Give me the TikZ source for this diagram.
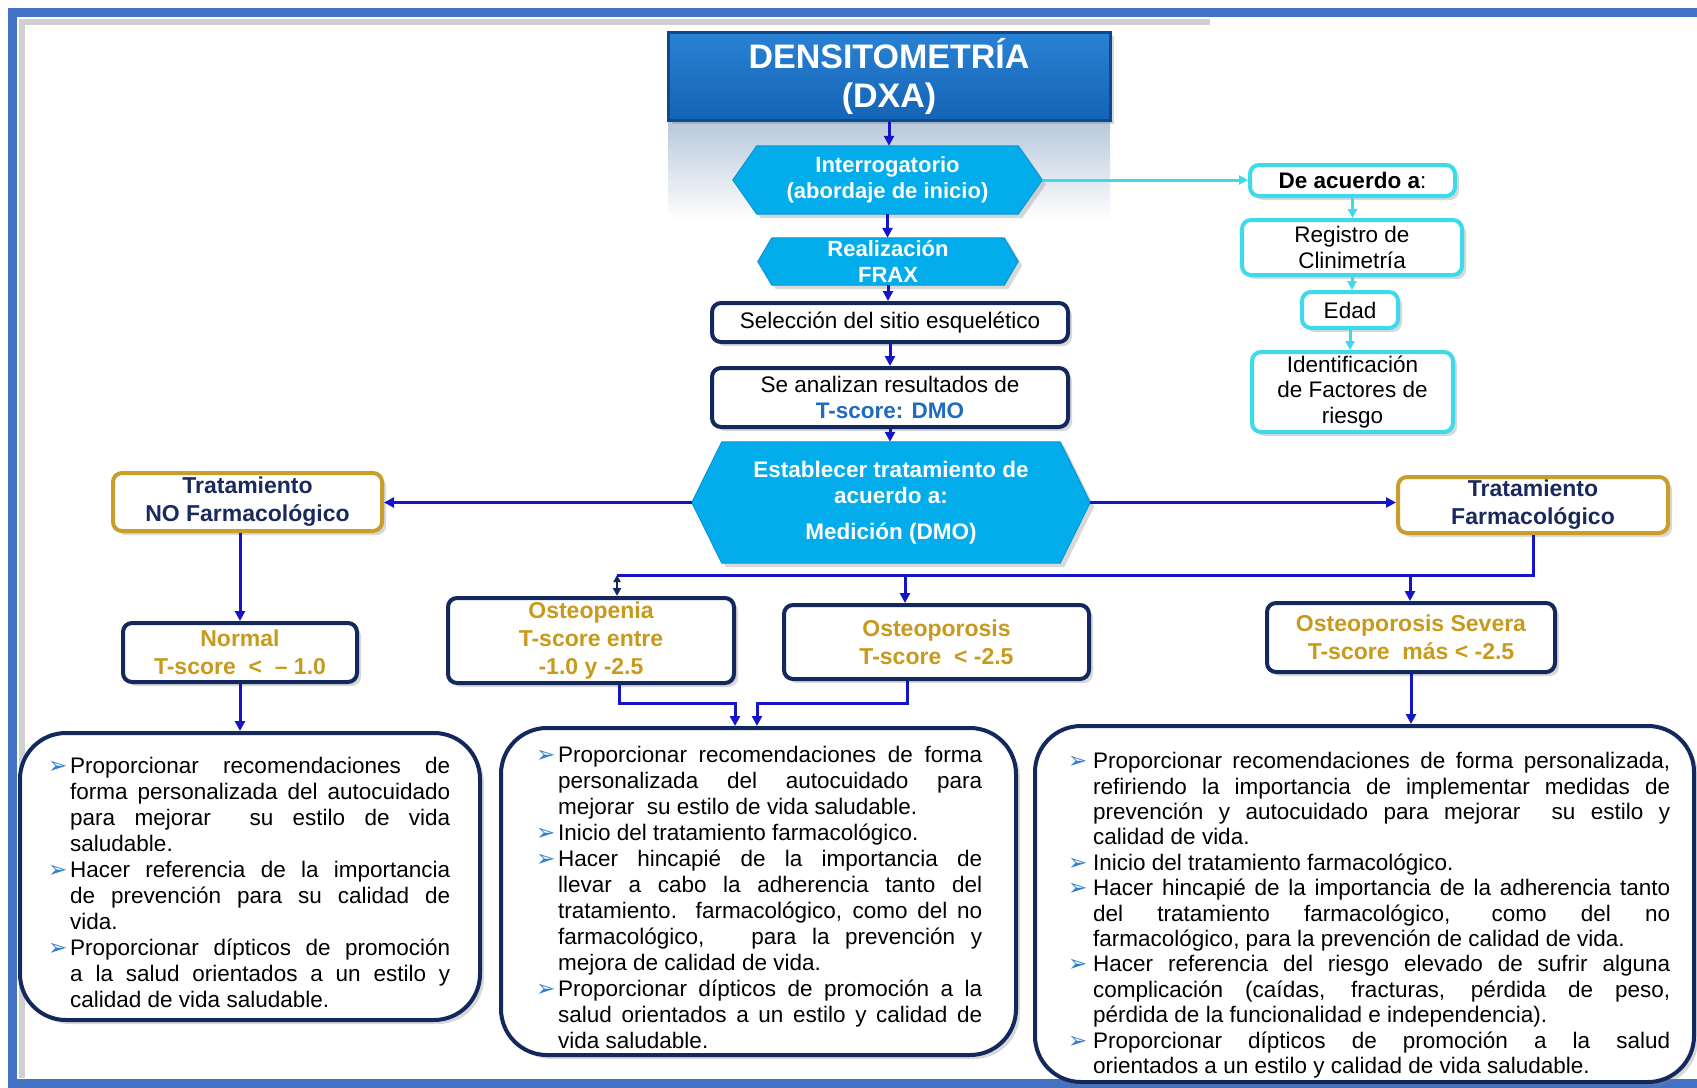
\documentclass[tikz,border=0pt]{standalone}
\usepackage{fontspec}
\setmainfont{Liberation Sans}
\newfontfamily\mysymfont{DejaVu Sans}
\usetikzlibrary{arrows.meta,shadows,backgrounds}
\definecolor{framecol}{HTML}{4472C4}
\definecolor{navy}{HTML}{13295E}
\definecolor{navytext}{HTML}{1B2A5C}
\definecolor{goldc}{HTML}{C99E2A}
\definecolor{goldt}{HTML}{C89A1C}
\definecolor{hexc}{HTML}{03ADEB}
\definecolor{hexedge}{HTML}{0796D0}
\definecolor{titletop}{HTML}{2A82D4}
\definecolor{titlebot}{HTML}{1563B4}
\definecolor{titleedge}{HTML}{0C4A8E}
\definecolor{arrowc}{HTML}{1414C8}
\definecolor{cyanc}{HTML}{3CDAEA}
\definecolor{tblue}{HTML}{1F6BC0}
\definecolor{bulcol}{HTML}{2F7ED0}
\definecolor{reflc}{HTML}{B7C8D9}
\newcommand\mytitlefont{\fontsize{34}{39}\selectfont\bfseries}
\newcommand\myhexfont{\fontsize{22}{26}\selectfont\bfseries}
\newcommand\myheadfont{\fontsize{23}{28}\selectfont\bfseries}
\newcommand\myregfont{\fontsize{22.5}{25.5}\selectfont}
\newcommand\mybodyfont{\fontsize{22.5}{26}\selectfont}
\newcommand\mybul{{\mysymfont\fontsize{23}{23}\selectfont\color{bulcol}➢}}
\newcommand\myitm[2]{\par\noindent\hangindent=#1\hangafter=1\makebox[#1][l]{\rule{0pt}{20pt}\mybul}#2\par}
\begin{document}
\begin{tikzpicture}[x=1pt,y=-1pt,
  shad/.style={drop shadow={opacity=0.3,shadow xshift=4pt,shadow yshift=-4pt}},
  navybox/.style={draw=navy,line width=4pt,rounded corners=9pt,fill=white,align=center,inner sep=0pt,shad},
  goldbox/.style={navybox,draw=goldc},
  cyanbox/.style={draw=cyanc,line width=4pt,rounded corners=9pt,fill=white,align=center,inner sep=0pt,shad,font=\myregfont},
  hexnode/.style={inner sep=0pt,align=center,text=white,font=\myhexfont},
  hexfill/.style={fill=hexc,draw=hexedge,line width=1pt,shad},
  bigbox/.style={draw=navy,line width=4pt,rounded corners=46pt,fill=white,inner sep=0pt,shad},
  bodytext/.style={inner sep=0pt,align=justify,anchor=north west,font={\mybodyfont\parindent=0pt\tolerance=10000\hyphenpenalty=10000}},
  conn/.style={draw=arrowc,line width=3pt,-{Triangle[length=10pt,width=10pt]}},
  plainline/.style={draw=arrowc,line width=3pt},
  cconn/.style={draw=cyanc,line width=3pt,-{Triangle[length=9pt,width=9pt]}},
  dconn/.style={draw=navy,line width=2pt,{Triangle[length=7pt,width=7pt]}-{Triangle[length=8pt,width=8pt]}}
]
\useasboundingbox (0,0) rectangle (1697,1087);
\begin{pgfonlayer}{background}
  \fill[white] (0,0) rectangle (1697,1087);
  \shade[top color=reflc,bottom color=white] (668,120) rectangle (1110,220);
\end{pgfonlayer}

% frame
\draw[black!30,line width=6pt,opacity=0.6] (22,1078) -- (22,22) -- (1210,22);
\draw[framecol,line width=9pt] (1697,12) -- (12,12) -- (12,1083) -- (1697,1083);

% title
\node[top color=titletop,bottom color=titlebot,draw=titleedge,line width=3pt,text=white,font=\mytitlefont,align=center,inner sep=0pt,minimum width=442pt,minimum height=88pt,shad] (title) at (889,76) {DENSITOMETRÍA\\(DXA)};

% hexagons
\node[hexnode,minimum width=309pt,minimum height=68pt] (interr) at (887.5,180) {Interrogatorio\\(abordaje de inicio)};
\node[hexnode,minimum width=260pt,minimum height=47pt] (realiz) at (888,261.5) {Realización\\FRAX};
\node[hexnode,font={\fontsize{22.5}{26}\selectfont\bfseries},minimum width=398pt,minimum height=121pt] (estab) at (891,502.5) {Establecer tratamiento de\\acuerdo a:\\[10pt]Medición (DMO)};
\begin{pgfonlayer}{background}
  \path[hexfill] (interr.west) -- ([xshift=24pt]interr.north west) -- ([xshift=-24pt]interr.north east) -- (interr.east) -- ([xshift=-24pt]interr.south east) -- ([xshift=24pt]interr.south west) -- cycle;
  \path[hexfill] (realiz.west) -- ([xshift=14pt]realiz.north west) -- ([xshift=-14pt]realiz.north east) -- (realiz.east) -- ([xshift=-14pt]realiz.south east) -- ([xshift=14pt]realiz.south west) -- cycle;
  \path[hexfill] (estab.west) -- ([xshift=30pt]estab.north west) -- ([xshift=-30pt]estab.north east) -- (estab.east) -- ([xshift=-30pt]estab.south east) -- ([xshift=30pt]estab.south west) -- cycle;
\end{pgfonlayer}

% central boxes
\node[navybox,font=\myregfont,minimum width=356pt,minimum height=39pt] (selec) at (890,322.5) {Selección del sitio esquelético};
\node[navybox,font=\myregfont,minimum width=356pt,minimum height=59pt] (anal) at (890,397.5) {Se analizan resultados de\\{\bfseries\color{tblue}T-score: DMO}};

% right cyan column
\node[cyanbox,minimum width=205pt,minimum height=31pt] (deac) at (1352.5,180.5) {\bfseries De acuerdo a\mdseries:};
\node[cyanbox,minimum width=220pt,minimum height=55pt] (regis) at (1352,247.5) {Registro de\\Clinimetría};
\node[cyanbox,minimum width=96pt,minimum height=36pt] (edad) at (1350,310) {Edad};
\node[cyanbox,minimum width=201pt,minimum height=80pt] (ident) at (1352.5,392) {Identificación\\de Factores de\\riesgo};

% treatment boxes
\node[goldbox,font=\myheadfont,text=navytext,minimum width=269pt,minimum height=58pt] (nofarm) at (247.5,502) {Tratamiento\\NO Farmacológico};
\node[goldbox,font=\myheadfont,text=navytext,minimum width=270pt,minimum height=56pt] (farm) at (1533,505) {Tratamiento\\Farmacológico};

% category boxes
\node[navybox,font=\myheadfont,text=goldt,minimum width=234pt,minimum height=59pt] (normal) at (240,652.5) {Normal\\T-score\ \ <\ \ – 1.0};
\node[navybox,font=\myheadfont,text=goldt,minimum width=286pt,minimum height=85pt] (openia) at (591,640.5) {Osteopenia\\T-score entre\\-1.0 y -2.5};
\node[navybox,font=\myheadfont,text=goldt,minimum width=305pt,minimum height=74pt] (osteo) at (936.5,642) {Osteoporosis\\T-score\ \ < -2.5};
\node[navybox,font=\myheadfont,text=goldt,minimum width=288pt,minimum height=69pt] (severa) at (1411,637.5) {Osteoporosis Severa\\T-score\ \ más < -2.5};

% big boxes
\node[bigbox,minimum width=460pt,minimum height=287pt] (lbox) at (250,876.5) {};
\node[bigbox,minimum width=515pt,minimum height=327pt] (mbox) at (758.5,891.5) {};
\node[bigbox,minimum width=659pt,minimum height=356pt] (rbox) at (1364.5,904) {};

\node[bodytext,text width=402pt] (ltext) at (48,747) {%
\myitm{22pt}{Proporcionar recomendaciones de\linebreak forma personalizada del autocuidado\linebreak para mejorar\ \ su estilo de vida\linebreak saludable.}%
\myitm{22pt}{Hacer referencia de la importancia\linebreak de prevención para su calidad de\linebreak vida.}%
\myitm{22pt}{Proporcionar dípticos de promoción\linebreak a la salud orientados a un estilo y\linebreak calidad de vida saludable.}};

\node[bodytext,text width=446pt] (mtext) at (536,736) {%
\myitm{22pt}{Proporcionar recomendaciones de forma\linebreak personalizada del autocuidado para\linebreak mejorar\ \ su estilo de vida saludable.}%
\myitm{22pt}{Inicio del tratamiento farmacológico.}%
\myitm{22pt}{Hacer hincapié de la importancia de\linebreak llevar a cabo la adherencia tanto del\linebreak tratamiento. farmacológico, como del no\linebreak farmacológico,\ \ \ para la prevención y\linebreak mejora de calidad de vida.}%
\myitm{22pt}{Proporcionar dípticos de promoción a la\linebreak salud orientados a un estilo y calidad de\linebreak vida saludable.}};

\node[bodytext,text width=602pt,font={\fontsize{22.5}{25.4}\selectfont\parindent=0pt\tolerance=10000\hyphenpenalty=10000}] (rtext) at (1068,743) {%
\myitm{25pt}{Proporcionar recomendaciones de forma personalizada,\linebreak refiriendo la importancia de implementar medidas de\linebreak prevención y autocuidado para mejorar\ \ su estilo y\linebreak calidad de vida.}%
\myitm{25pt}{Inicio del tratamiento farmacológico.}%
\myitm{25pt}{Hacer hincapié de la importancia de la adherencia tanto\linebreak del tratamiento farmacológico, como del no\linebreak farmacológico, para la prevención de calidad de vida.}%
\myitm{25pt}{Hacer referencia del riesgo elevado de sufrir alguna\linebreak complicación (caídas, fracturas, pérdida de peso,\linebreak pérdida de la funcionalidad e independencia).}%
\myitm{25pt}{Proporcionar dípticos de promoción a la salud\linebreak orientados a un estilo y calidad de vida saludable.}};

% connectors: main column
\draw[conn] (title.south) -- (title.south |- interr.north);
\draw[conn] (interr.south) -- (interr.south |- realiz.north);
\draw[conn] (realiz.south) -- (realiz.south |- selec.north);
\draw[conn] (selec.south) -- (selec.south |- anal.north);
\draw[conn] (anal.south) -- (anal.south |- estab.north);
\draw[cconn] (interr.east) -- (interr.east -| deac.west);
\draw[cconn] (deac.south) -- (deac.south |- regis.north);
\draw[cconn] (regis.south) -- (regis.south |- edad.north);
\draw[cconn] (edad.south) -- (edad.south |- ident.north);

% treatment branches
\draw[conn] (estab.west) -- (estab.west -| nofarm.east);
\draw[conn] (estab.east) -- (estab.east -| farm.west);
\draw[conn] (nofarm.south -| normal.north) -- (normal.north);
\draw[conn] (normal.south) -- (normal.south |- lbox.north);

\coordinate (busL) at (617,575);
\coordinate (busM) at (905,575);
\coordinate (busS) at (1410,575);
\draw[plainline] (farm.south) |- (busL);
\draw[dconn] (busL) -- (busL |- openia.north);
\draw[conn] (busM) -- (busM |- osteo.north);
\draw[conn] (busS) -- (busS |- severa.north);

\coordinate (j1) at (735,703);
\coordinate (j2) at (757,703);
\draw[conn] ([xshift=28pt]openia.south) |- (j1) -- (j1 |- mbox.north);
\draw[conn] ([xshift=-29.5pt]osteo.south) |- (j2) -- (j2 |- mbox.north);
\draw[conn] (severa.south) -- (severa.south |- rbox.north);
\end{tikzpicture}
\end{document}
